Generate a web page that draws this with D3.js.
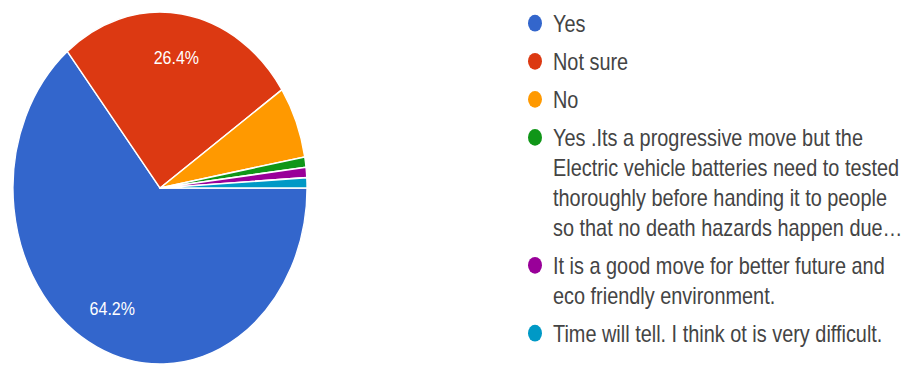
<!DOCTYPE html>
<html>
<head>
<meta charset="utf-8">
<script src="https://cdn.jsdelivr.net/npm/d3@7"></script>
<style>
  html, body { margin: 0; padding: 0; background: #fff; }
  svg { display: block; }
</style>
</head>
<body>
<svg id="chart" width="904" height="365"></svg>
<script>
// Survey answers and response counts
const categories = [
  "Yes",
  "Not sure",
  "No",
  "Yes .Its a progressive move but the Electric vehicle batteries need to tested thoroughly before handing it to people so that no death hazards happen due…",
  "It is a good move for better future and eco friendly environment.",
  "Time will tell. I think ot is very difficult."
];
const counts = [68, 28, 7, 1, 1, 1];
const colors = ["#3366cc", "#dc3912", "#ff9900", "#109618", "#990099", "#0099c6"];
// Legend text as wrapped lines
const legendLines = [
  ["Yes"],
  ["Not sure"],
  ["No"],
  ["Yes .Its a progressive move but the",
   "Electric vehicle batteries need to tested",
   "thoroughly before handing it to people",
   "so that no death hazards happen due…"],
  ["It is a good move for better future and",
   "eco friendly environment."],
  ["Time will tell. I think ot is very difficult."]
];

const sy = 1.197;              // vertical stretch of the whole drawing
const cx = 160, cy = 157.1, r = 147;
const labelR = 111;

const svg = d3.select("#chart");
const root = svg.append("g").attr("transform", `scale(1,${sy})`);

const total = d3.sum(counts);
const data = categories.map((c, i) => ({ name: c, value: counts[i], color: colors[i], lines: legendLines[i] }));

const pie = d3.pie()
  .sort(null)
  .value(d => d.value)
  .startAngle(Math.PI / 2)
  .endAngle(Math.PI / 2 + 2 * Math.PI);

const arc = d3.arc().innerRadius(0).outerRadius(r);
const labelArc = d3.arc().innerRadius(labelR).outerRadius(labelR);

const pieG = root.append("g").attr("transform", `translate(${cx},${cy})`);
const arcs = pie(data);

pieG.selectAll("path")
  .data(arcs)
  .join("path")
  .attr("d", arc)
  .attr("fill", d => d.data.color)
  .attr("stroke", "#fff")
  .attr("stroke-width", 1.3)
  .attr("stroke-linejoin", "round");

const fmt = d3.format(".1%");
pieG.selectAll("text.pct")
  .data(arcs.filter(d => d.data.value / total >= 0.1))
  .join("text")
  .attr("class", "pct")
  .attr("transform", d => `translate(${labelArc.centroid(d)})`)
  .attr("text-anchor", "middle")
  .attr("dy", "0.36em")
  .attr("font-family", "'Liberation Sans', Arial, sans-serif")
  .attr("font-size", 16)
  .attr("fill", "#fff")
  .text(d => fmt(d.data.value / total));

// Legend
const legX = 535, textX = 553;
const itemGap = 31.8, lineH = 25;
let y = 19.4;
const legG = root.append("g");
data.forEach(d => {
  const item = legG.append("g");
  item.append("circle")
    .attr("cx", legX)
    .attr("cy", y)
    .attr("r", 7)
    .attr("fill", d.color);
  d.lines.forEach((ln, j) => {
    item.append("text")
      .attr("x", textX)
      .attr("y", y + j * lineH)
      .attr("dy", "0.36em")
      .attr("font-family", "'Liberation Sans', Arial, sans-serif")
      .attr("font-size", 19.9)
      .attr("fill", "#444")
      .text(ln);
  });
  y += (d.lines.length - 1) * lineH + itemGap;
});
</script>
</body>
</html>
